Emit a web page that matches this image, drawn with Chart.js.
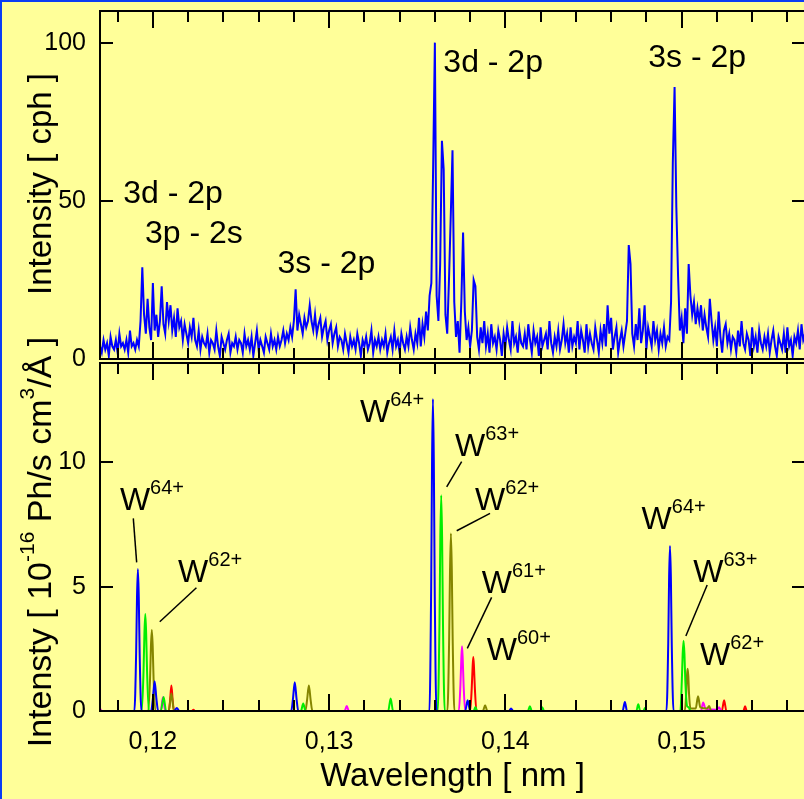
<!DOCTYPE html>
<html>
<head>
<meta charset="utf-8">
<script src="https://cdn.jsdelivr.net/npm/chart.js@4.4.1/dist/chart.umd.min.js"></script>
<style>
  html, body { margin: 0; padding: 0; background: #ffff99; }
  #wrap { position: relative; width: 804px; height: 799px; overflow: hidden; background: #ffff99; }
  canvas { position: absolute; left: 0; top: 0; }
  #edge { position: absolute; left: 0; top: 0; width: 804px; height: 799px; box-sizing: border-box;
          border-top: 2px solid #0a3cf5; border-left: 2px solid #0a3cf5; pointer-events: none; }
</style>
</head>
<body>
<div id="wrap">
  <canvas id="top-chart" width="806" height="799"></canvas>
  <canvas id="bottom-chart" width="806" height="799"></canvas>
  <div id="edge"></div>
</div>
<script>
const FONT = '"Liberation Sans", Arial, sans-serif';
Chart.defaults.font.family = FONT;
Chart.defaults.color = '#000';

// axis ticks
const xTickLabels = [0.12, 0.13, 0.14, 0.15];
const topYTicks = [0, 50, 100];
const bottomYTicks = [0, 5, 10];

// measured spectrum (cph), one sample every 0.0001 nm starting at 0.117 nm
const countStart = 0.117;
const countStep = 0.0001;
const counts = [
  4, 2, 6, 3, 5, 1, 7, 4, 3, 6, 2, 8, 4, 5, 3, 6, 2, 9, 4, 5,
  3, 6, 4, 12, 29, 14, 8, 19, 10, 6, 24, 9, 14, 7, 12, 23, 11, 8, 18, 12,
  17, 9, 13, 7, 16, 10, 12, 6, 11, 8, 5, 10, 7, 13, 6, 4, 9, 3, 7, 5,
  4, 8, 2, 6, 5, 3, 9, 4, 1, 7, 5, 3, 6, 8, 2, 5, 4, 7, 3, 6,
  5, 2, 8, 4, 6, 3, 7, 1, 5, 9, 3, 6, 4, 2, 7, 5, 3, 8, 4, 6,
  3, 7, 4, 6, 9, 5, 8, 6, 10, 7, 12, 22, 9, 14, 11, 8, 13, 10, 12, 17,
  12, 9, 14, 8, 11, 13, 7, 10, 12, 6, 9, 11, 5, 8, 10, 4, 7, 6, 3, 8,
  5, 2, 7, 4, 6, 3, 8, 5, 1, 6, 4, 7, 3, 5, 9, 2, 6, 4, 7, 3,
  6, 4, 8, 2, 5, 7, 3, 9, 4, 6, 2, 8, 5, 3, 7, 4, 10, 6, 3, 8,
  5, 13, 4, 11, 7, 15, 9, 20, 24, 60, 100, 20, 12, 30, 69, 60, 14, 8, 25, 45,
  66, 18, 7, 12, 2, 18, 40, 15, 6, 10, 4, 9, 25, 23, 7, 3, 10, 5, 12, 4,
  8, 2, 11, 5, 7, 3, 9, 6, 1, 8, 4, 10, 6, 3, 12, 5, 7, 2, 9, 5,
  4, 8, 3, 11, 6, 2, 9, 5, 7, 1, 10, 4, 6, 8, 3, 12, 5, 2, 7, 4,
  9, 3, 6, 11, 5, 8, 2, 10, 4, 7, 5, 12, 3, 9, 6, 2, 11, 4, 8, 5,
  3, 10, 6, 2, 9, 5, 11, 4, 17, 8, 13, 3, 7, 10, 2, 6, 9, 4, 8, 12,
  36, 30, 8, 4, 11, 6, 16, 5, 9, 17, 3, 10, 7, 4, 12, 6, 9, 3, 8, 5,
  10, 4, 7, 6, 18, 62, 86, 48, 26, 9, 13, 5, 16, 8, 30, 20, 14, 18, 11, 16,
  12, 17, 9, 14, 10, 7, 19, 12, 6, 10, 4, 15, 7, 2, 9, 11, 5, 8, 3, 7,
  6, 2, 9, 4, 12, 5, 3, 8, 6, 1, 10, 4, 7, 2, 9, 5, 3, 7, 4, 8,
  2, 6, 9, 4, 1, 7, 5, 3, 8, 2, 10, 4, 6, 1, 7, 5, 9, 3, 11, 6,
  8
];

// calculated emission per ion, [wavelength nm, 1e-16 Ph/s cm3/A]
const w64 = [
  [0.117, 0], [0.11895, 0], [0.11905, 2.3], [0.1191, 4.6], [0.11915, 5.71], [0.1192, 4.6], [0.11925, 2.3], [0.11935, 0],
  [0.1199, 0], [0.12, 0.5], [0.1201, 1.2], [0.1202, 0.5], [0.1203, 0],
  [0.1212, 0], [0.12136, 0.12], [0.1215, 0],
  [0.12785, 0], [0.12795, 0.5], [0.12805, 1.16], [0.12815, 0.5], [0.12825, 0],
  [0.13569, 0], [0.13579, 5.0], [0.13584, 10.1], [0.13589, 12.55], [0.13594, 10.1], [0.13599, 5.0], [0.13609, 0],
  [0.13772, 0], [0.13786, 0.43], [0.138, 0],
  [0.1402, 0], [0.14032, 0.1], [0.14045, 0],
  [0.14665, 0], [0.14678, 0.36], [0.1469, 0],
  [0.14914, 0], [0.14924, 2.7], [0.14929, 5.4], [0.14934, 6.64], [0.14939, 5.4], [0.14944, 2.7], [0.14954, 0],
  [0.157, 0]
];
const w63 = [
  [0.117, 0], [0.11937, 0], [0.11947, 1.6], [0.11952, 3.1], [0.11957, 3.9], [0.11962, 3.1], [0.11967, 1.6], [0.11977, 0],
  [0.12045, 0], [0.12061, 0.56], [0.12075, 0],
  [0.1284, 0], [0.12853, 0.3], [0.12866, 0],
  [0.13335, 0], [0.13349, 0.5], [0.13363, 0],
  [0.13616, 0], [0.13626, 3.5], [0.13631, 7.0], [0.13636, 8.68], [0.13641, 7.0], [0.13646, 3.5], [0.13656, 0],
  [0.1382, 0], [0.1383, 0.16], [0.1384, 0],
  [0.14128, 0], [0.14139, 0.19], [0.1415, 0],
  [0.142, 0], [0.14209, 0.15], [0.1422, 0],
  [0.14743, 0], [0.14754, 0.27], [0.14765, 0],
  [0.14783, 0], [0.14792, 0.12], [0.148, 0],
  [0.14993, 0], [0.15001, 1.2], [0.15006, 2.3], [0.15011, 2.83], [0.15016, 2.3], [0.15021, 1.2], [0.15031, 0.2], [0.1504, 0.15], [0.1505, 0],
  [0.157, 0]
];
const w62 = [
  [0.117, 0], [0.11974, 0], [0.11984, 1.3], [0.11989, 2.6], [0.11994, 3.26], [0.11999, 2.6], [0.12004, 1.3], [0.12014, 0],
  [0.1209, 0], [0.12105, 0.7], [0.1212, 0],
  [0.12865, 0], [0.12875, 0.45], [0.12885, 1.03], [0.12895, 0.45], [0.12905, 0],
  [0.13671, 0], [0.13681, 2.9], [0.13686, 5.7], [0.13691, 7.14], [0.13696, 5.7], [0.13701, 2.9], [0.13711, 0],
  [0.13872, 0], [0.13885, 0.23], [0.13898, 0],
  [0.15018, 0], [0.15026, 0.7], [0.1503, 1.4], [0.15034, 1.7], [0.15038, 1.4], [0.15042, 0.7], [0.1505, 0.1],
  [0.1508, 0.1], [0.15093, 0.59], [0.15106, 0.15],
  [0.15145, 0.1], [0.15156, 0.2], [0.15168, 0],
  [0.157, 0]
];
const w61 = [
  [0.117, 0.1], [0.1171, 0],
  [0.12045, 0], [0.12057, 0.55], [0.1207, 0],
  [0.13088, 0], [0.131, 0.2], [0.13112, 0],
  [0.13736, 0], [0.13745, 1.05], [0.1375, 2.1], [0.13754, 2.6], [0.13758, 2.1], [0.13763, 1.05], [0.13772, 0],
  [0.1511, 0], [0.15122, 0.34], [0.15135, 0.1],
  [0.152, 0.05], [0.15213, 0.15], [0.15225, 0],
  [0.157, 0]
];
const w60 = [
  [0.117, 0],
  [0.1209, 0], [0.12098, 0.45], [0.12105, 1.03], [0.12112, 0.45], [0.1212, 0],
  [0.1222, 0], [0.1223, 0.05], [0.1224, 0],
  [0.138, 0], [0.13809, 0.9], [0.13814, 1.75], [0.13818, 2.17], [0.13822, 1.75], [0.13827, 0.9], [0.13836, 0],
  [0.15228, 0], [0.15241, 0.43], [0.15254, 0],
  [0.1535, 0], [0.1536, 0.19], [0.1537, 0],
  [0.157, 0]
];

const ionSeries = [w64, w63, w62, w61, w60];
const ionNames = ['W64+', 'W63+', 'W62+', 'W61+', 'W60+'];
const ionColors = ['#0000ff', '#00ee00', '#858500', '#ff00ff', '#ff0000'];

// annotations, anchored in data coordinates
const topNotes = [
  ['3d - 2p', 0.11832, 49.3],
  ['3p - 2s', 0.11955, 36.8],
  ['3s - 2p', 0.12707, 27.2],
  ['3d - 2p', 0.13648, 90.8],
  ['3s - 2p', 0.14811, 92.4]
];
// [charge, x, y, leader line x1, y1, x2, y2]
const ionNotes = [
  ['64+', 0.11813, 8.09, 0.11889, 7.75, 0.11908, 5.98],
  ['62+', 0.12143, 5.2, 0.12247, 4.96, 0.12039, 3.59],
  ['64+', 0.13175, 11.61],
  ['63+', 0.13714, 10.26, 0.13752, 10.03, 0.13667, 9.02],
  ['62+', 0.13828, 8.09, 0.13913, 7.95, 0.13724, 7.25],
  ['61+', 0.13866, 4.76, 0.13922, 4.57, 0.13784, 2.52],
  ['60+', 0.13894, 2.05],
  ['64+', 0.14773, 7.31],
  ['63+', 0.15066, 5.2, 0.15145, 5.07, 0.15024, 3.02],
  ['62+', 0.15104, 1.85]
];

// text with superscripts, drawn along a baseline (optionally rotated)
function drawRich(ctx, parts, size, x, y, rotated, centred) {
  const supSize = Math.round(size * 0.62);
  const widths = parts.map(([t, sup]) => {
    ctx.font = (sup ? supSize : size) + 'px ' + FONT;
    return ctx.measureText(t).width;
  });
  const total = widths.reduce((a, b) => a + b, 0);
  ctx.save();
  ctx.translate(x, y);
  if (rotated) ctx.rotate(-Math.PI / 2);
  ctx.fillStyle = '#000';
  ctx.textAlign = 'left';
  ctx.textBaseline = 'alphabetic';
  let pos = centred ? -total / 2 : 0;
  parts.forEach(([t, sup], i) => {
    ctx.font = (sup ? supSize : size) + 'px ' + FONT;
    ctx.fillText(t, pos, sup ? -size * 0.5 : 0);
    pos += widths[i];
  });
  ctx.restore();
}

const framePlugin = {
  id: 'frame',
  afterDraw(chart) {
    const { ctx, chartArea: a, scales } = chart;
    ctx.save();
    ctx.strokeStyle = '#000';
    ctx.lineWidth = 2;
    ctx.beginPath();
    for (let k = 59; k <= 78; k++) {
      const px = Math.round(scales.x.getPixelForValue(k * 0.002));
      const len = k % 5 === 0 ? 17 : 11;
      ctx.moveTo(px, a.top); ctx.lineTo(px, a.top + len);
      ctx.moveTo(px, a.bottom); ctx.lineTo(px, a.bottom - len);
    }
    scales.y.ticks.forEach(t => {
      const py = Math.round(scales.y.getPixelForValue(t.value));
      ctx.moveTo(a.left, py); ctx.lineTo(a.left + 13, py);
      ctx.moveTo(a.right, py); ctx.lineTo(a.right - 13, py);
    });
    ctx.stroke();
    ctx.strokeRect(a.left, a.top, a.right - a.left, a.bottom - a.top);
    ctx.restore();
  }
};

const topNotesPlugin = {
  id: 'topNotes',
  afterDraw(chart) {
    const { ctx, scales: { x, y } } = chart;
    ctx.save();
    ctx.fillStyle = '#000';
    ctx.font = '32px ' + FONT;
    ctx.textAlign = 'left';
    ctx.textBaseline = 'alphabetic';
    topNotes.forEach(([t, wl, v]) => ctx.fillText(t, x.getPixelForValue(wl), y.getPixelForValue(v)));
    ctx.restore();
    drawRich(ctx, [['Intensity [ cph ]', false]], 33, 51, 184, true, true);
  }
};

const ionNotesPlugin = {
  id: 'ionNotes',
  afterDraw(chart) {
    const { ctx, scales: { x, y } } = chart;
    ionNotes.forEach(n => {
      drawRich(ctx, [['W', false], [n[0], true]], 32, x.getPixelForValue(n[1]), y.getPixelForValue(n[2]), false, false);
      if (n.length > 3) {
        ctx.save();
        ctx.strokeStyle = '#000';
        ctx.lineWidth = 1.5;
        ctx.beginPath();
        ctx.moveTo(x.getPixelForValue(n[3]), y.getPixelForValue(n[4]));
        ctx.lineTo(x.getPixelForValue(n[5]), y.getPixelForValue(n[6]));
        ctx.stroke();
        ctx.restore();
      }
    });
    drawRich(ctx, [['Intensty [ 10', false], ['-16', true], [' Ph/s cm', false], ['3', true], ['/Å ]', false]],
      34, 51, 542, true, true);
  }
};

// scale boxes get fixed sizes so the plot areas land where the figure has them
function noPad(s) {
  s.paddingTop = 0; s.paddingBottom = 0; s.paddingLeft = 0; s.paddingRight = 0;
}

function yScale(max, ticks) {
  return {
    min: 0, max: max,
    afterFit: s => { s.width = 100; noPad(s); },
    afterBuildTicks: s => { s.ticks = ticks.map(v => ({ value: v })); },
    ticks: { padding: 14, font: { size: 25 } },
    grid: { display: false, drawTicks: false },
    border: { display: false }
  };
}

new Chart(document.getElementById('top-chart'), {
  type: 'line',
  data: {
    datasets: [{
      data: counts.map((c, i) => ({ x: countStart + i * countStep, y: c })),
      borderColor: '#0000ff', borderWidth: 2, pointRadius: 0, tension: 0
    }]
  },
  options: {
    responsive: false, animation: false, events: [],
    layout: { padding: { top: 11, bottom: 440, left: 0, right: 1 } },
    plugins: { legend: { display: false }, tooltip: { enabled: false } },
    scales: {
      x: { type: 'linear', min: 0.117, max: 0.157, display: false },
      y: yScale(110, topYTicks)
    }
  },
  plugins: [framePlugin, topNotesPlugin]
});

new Chart(document.getElementById('bottom-chart'), {
  type: 'line',
  data: {
    datasets: ionSeries.map((pts, i) => ({
      label: ionNames[i],
      data: pts.map(p => ({ x: p[0], y: p[1] })),
      borderColor: ionColors[i], borderWidth: 2, pointRadius: 0,
      cubicInterpolationMode: 'monotone'
    }))
  },
  options: {
    responsive: false, animation: false, events: [],
    layout: { padding: { top: 363, bottom: 0, left: 0, right: 1 } },
    plugins: { legend: { display: false }, tooltip: { enabled: false } },
    scales: {
      x: {
        type: 'linear', min: 0.117, max: 0.157, position: 'bottom',
        afterFit: s => { s.height = 88; noPad(s); },
        afterBuildTicks: s => { s.ticks = xTickLabels.map(v => ({ value: v })); },
        ticks: { padding: 16, autoSkip: false, maxRotation: 0, font: { size: 25 },
                 callback: v => v.toFixed(2).replace('.', ',') },
        grid: { display: false, drawTicks: false },
        border: { display: false },
        title: { display: true, text: 'Wavelength [ nm ]', font: { size: 33, lineHeight: 1 }, padding: { top: 0, bottom: 6 } }
      },
      y: yScale(14, bottomYTicks)
    }
  },
  plugins: [framePlugin, ionNotesPlugin]
});
</script>
</body>
</html>
